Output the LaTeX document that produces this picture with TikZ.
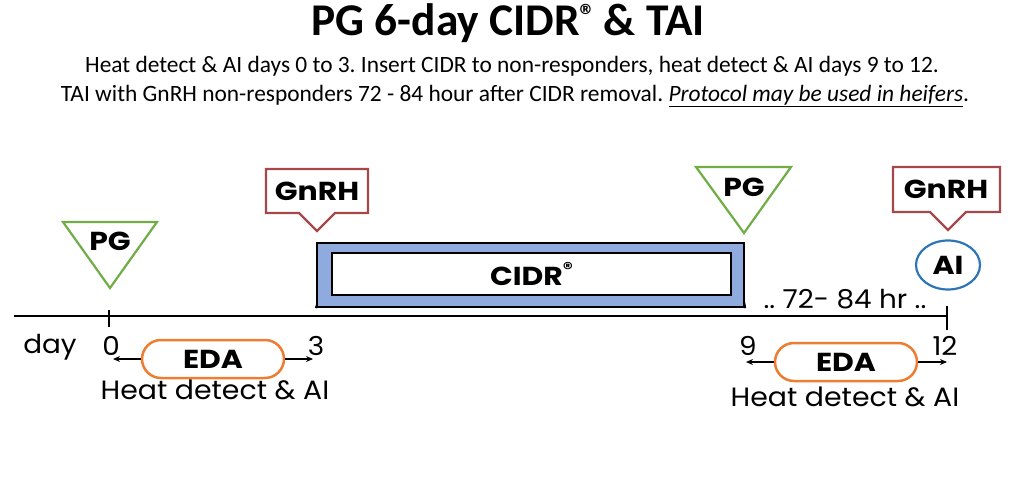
\documentclass[tikz,border=0pt]{standalone}
\usepackage{fontspec}
\setmainfont{Poppins}
\newfontfamily\lblfont[FakeStretch=1.15]{Poppins}
\newfontfamily\txtfont[FakeStretch=1.07]{Poppins}
\newfontfamily\titlefont{Carlito}
\usetikzlibrary{arrows.meta,shapes.geometric}
\definecolor{pggreen}{HTML}{70AD47}
\definecolor{gnred}{HTML}{A5484B}
\definecolor{cidrblue}{HTML}{8FAADC}
\definecolor{aiblue}{HTML}{2E75B6}
\definecolor{edaorange}{HTML}{ED7D31}
\frenchspacing
\begin{document}
\begin{tikzpicture}[x=1pt,y=-1pt,
  boldlbl/.style={font=\lblfont\fontsize{26}{28}\selectfont\bfseries, inner sep=0pt},
  daylbl/.style={font=\txtfont\fontsize{26}{28}\selectfont, inner sep=0pt},
  heatlbl/.style={font=\txtfont\fontsize{26.5}{28}\selectfont, inner sep=0pt},
  axis/.style={line width=2.2pt},
  pgtri/.style={draw=pggreen, line width=2.2pt, fill=white, line join=miter},
  callout/.style={draw=gnred, line width=2.2pt, fill=white},
  pill/.style={draw=edaorange, line width=2.5pt, rounded corners=19pt, minimum width=142pt, minimum height=38pt, font=\lblfont\fontsize{26}{28}\selectfont\bfseries, inner sep=0pt},
  harrow/.style={line width=1.6pt, -{Stealth[length=7pt,width=6pt]}}
]
\useasboundingbox (0,0) rectangle (1024,481);
% title
\node[font=\titlefont\bfseries\fontsize{45.4}{48}\selectfont, inner sep=0pt] (title) at (508,23) {PG 6-day CIDR\textsuperscript{®}\,\& TAI};
\node[font=\titlefont\fontsize{23.4}{26}\selectfont, inner sep=0pt] (sub1) at (512,66) {Heat detect \& AI days 0 to 3. Insert CIDR to non-responders, heat detect \& AI days 9 to 12.};
\node[font=\titlefont\fontsize{23.4}{26}\selectfont, inner sep=0pt] (sub2) at (515,96) {TAI with GnRH non-responders 72 - 84 hour after CIDR removal. \underline{\textit{Protocol may be used in heifers}}.};
% timeline
\coordinate (L) at (14,316);
\coordinate (R) at (947,316);
\draw[axis] (L) -- (R);
% CIDR box
\node[draw=black, line width=2.2pt, fill=cidrblue, minimum width=427pt, minimum height=64pt, inner sep=0pt] (cidr) at (530.5,275) {};
\node[draw=black, line width=2.2pt, fill=white, minimum width=399pt, minimum height=42pt, inner sep=0pt, font=\lblfont\fontsize{26}{28}\selectfont\bfseries] (cidrin) at (531.5,274) {CIDR\raisebox{0.4em}{\fontsize{17}{18}\selectfont ®}};
% ticks
\coordinate (t0) at (109,316);
\coordinate (t3) at (317,316);
\coordinate (t9) at (744,316);
\coordinate (t12) at (947,316);
\draw[axis] ([yshift=-11pt]t0) -- ([yshift=6pt]t0);
\draw[axis] (cidr.south west) -- ([yshift=11pt]t3);
\draw[axis] (cidr.south east) -- ([yshift=14pt]t9);
\draw[axis] ([yshift=-14pt]t12) -- ([yshift=10pt]t12);
% day labels
\node[daylbl] (day) at (50,347) {day};
\node[daylbl] (d0) at (111,346) {0};
\node[daylbl] (d3) at (316,346) {3};
\node[daylbl] (d9) at (748,346) {9};
\node[daylbl] (d12) at (945,346) {12};
\node[daylbl] (hr) at (845,299) {.. 72- 84 hr ..};
% PG triangles
\draw[pgtri] (63,222) -- (157,222) -- (110,288) -- cycle;
\node[boldlbl] (pg1) at (110,241) {PG};
\draw[pgtri] (696,167) -- (791,167) -- (744,233) -- cycle;
\node[boldlbl] (pg2) at (744,187) {PG};
% GnRH callouts
\draw[callout] (266,169) -- (368,169) -- (368,213) -- (335,213) -- (317,231) -- (299,213) -- (266,213) -- cycle;
\node[boldlbl] (gn1) at (317,191) {GnRH};
\draw[callout] (893,167) -- (1000,167) -- (1000,212) -- (966,212) -- (948,230) -- (930,212) -- (893,212) -- cycle;
\node[boldlbl] (gn2) at (946,189) {GnRH};
% AI
\node[draw=aiblue, line width=2.2pt, ellipse, minimum width=64pt, minimum height=49pt, inner sep=0pt, font=\lblfont\fontsize{26}{28}\selectfont\bfseries] (ai) at (948,265) {AI};
% EDA
\node[pill] (eda1) at (213,359) {EDA};
\draw[harrow] (eda1.west) -- (113,359);
\draw[harrow] (eda1.east) -- (313,359);
\node[heatlbl] (heat1) at (215,390) {Heat detect \& AI};
\node[pill] (eda2) at (846,362) {EDA};
\draw[harrow] (eda2.west) -- (746,362);
\draw[harrow] (eda2.east) -- (947,362);
\node[heatlbl] (heat2) at (845,397) {Heat detect \& AI};
\end{tikzpicture}
\end{document}
